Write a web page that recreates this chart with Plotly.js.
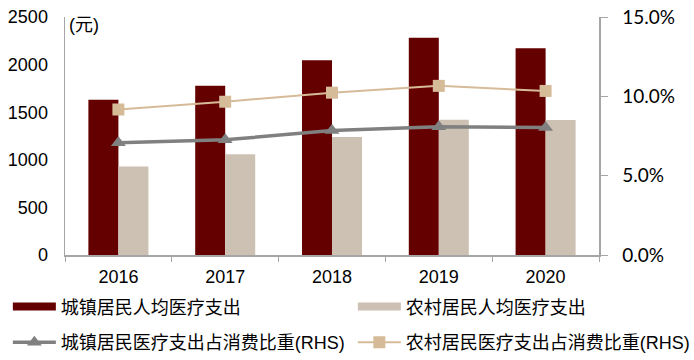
<!DOCTYPE html>
<html>
<head>
<meta charset="utf-8">
<script src="https://cdn.plot.ly/plotly-3.0.1.min.js"></script>
<style>html,body{margin:0;padding:0;background:#fff;}#chart{width:694px;height:360px;}</style>
</head>
<body>
<div id="chart"></div>
<script>
var years = ['2016', '2017', '2018', '2019', '2020'];
var urbanSpend = [1631, 1777, 2046, 2283, 2172];
var ruralSpend = [929, 1059, 1240, 1421, 1418];
var urbanShare = [0.0707, 0.0726, 0.0784, 0.0809, 0.0803];
var ruralShare = [0.0917, 0.0966, 0.1023, 0.1066, 0.1034];
var names = ['城镇居民人均医疗支出', '农村居民人均医疗支出', '城镇居民医疗支出占消费比重(RHS)', '农村居民医疗支出占消费比重(RHS)'];
var unitLabel = '(元)';

var cUrban = '#650000', cRural = '#cdc1b3', cUrbanLine = '#808080', cRuralLine = '#d6bb98';
var font = 'Liberation Sans, Arial, Noto Sans CJK SC, sans-serif';

var traces = [
  {type: 'bar', x: years, y: urbanSpend, name: names[0], marker: {color: cUrban, line: {width: 0}}, showlegend: false, hoverinfo: 'skip'},
  {type: 'bar', x: years, y: ruralSpend, name: names[1], marker: {color: cRural, line: {width: 0}}, showlegend: false, hoverinfo: 'skip'},
  {type: 'scatter', mode: 'lines', x: [years[0]], y: [null], name: names[0], line: {color: cUrban, width: 8}, legend: 'legend'},
  {type: 'scatter', mode: 'lines', x: [years[0]], y: [null], name: names[1], line: {color: cRural, width: 8}, legend: 'legend2'},
  {type: 'scatter', mode: 'lines+markers', x: years, y: urbanShare, yaxis: 'y2', name: names[2],
   line: {color: cUrbanLine, width: 3.5}, marker: {symbol: 'triangle-up', size: 13, color: cUrbanLine}, legend: 'legend3'},
  {type: 'scatter', mode: 'lines+markers', x: years, y: ruralShare, yaxis: 'y2', name: names[3],
   line: {color: cRuralLine, width: 2}, marker: {symbol: 'square', size: 12, color: cRuralLine}, legend: 'legend4'}
];

function leg(x, y) {
  return {orientation: 'h', x: x, y: y, xanchor: 'left', yanchor: 'middle',
    font: {family: font, size: 18, color: '#000'}, itemwidth: 43,
    bgcolor: 'rgba(0,0,0,0)', borderwidth: 0};
}
var colA = -0.107, colB = 0.539, rowA = -0.218, rowB = -0.368;

var layout = {
  width: 694, height: 360,
  margin: {l: 65, r: 95, t: 17, b: 105, autoexpand: false},
  paper_bgcolor: '#fff', plot_bgcolor: '#fff',
  barmode: 'group', bargap: 0.438, bargroupgap: 0,
  font: {family: font, size: 18, color: '#000'},
  xaxis: {type: 'category', showline: true, linecolor: '#a6a6a6', linewidth: 1.5, ticks: 'outside', tickson: 'boundaries',
    ticklen: 5, tickcolor: '#a6a6a6', showgrid: false, tickfont: {family: font, size: 18, color: '#000'}, fixedrange: true,
    ticklabelstandoff: 5},
  yaxis: {range: [0, 2500], dtick: 500, showline: true, linecolor: '#a6a6a6', linewidth: 1.5, ticks: '', showgrid: false,
    zeroline: false, tickfont: {family: font, size: 18, color: '#000'}, ticklabelstandoff: 12},
  yaxis2: {range: [0, 0.15], dtick: 0.05, tickformat: '.1%', overlaying: 'y', side: 'right', showline: true, linecolor: '#a6a6a6',
    linewidth: 1.5, ticks: 'outside', ticklen: 7, tickcolor: '#a6a6a6', showgrid: false, zeroline: false,
    tickfont: {family: 'Lato, Liberation Sans, sans-serif', size: 19, color: '#000'}, ticklabelstandoff: 11},
  legend: leg(colA, rowA),
  legend2: leg(colB, rowA),
  legend3: leg(colA, rowB),
  legend4: leg(colB, rowB),
  annotations: [{xref: 'paper', yref: 'paper', x: 0.004, y: 0.966, xanchor: 'left', yanchor: 'middle', text: unitLabel,
    showarrow: false, font: {family: font, size: 18, color: '#000'}}]
};

Plotly.newPlot('chart', traces, layout, {displayModeBar: false, staticPlot: true});
</script>
</body>
</html>
